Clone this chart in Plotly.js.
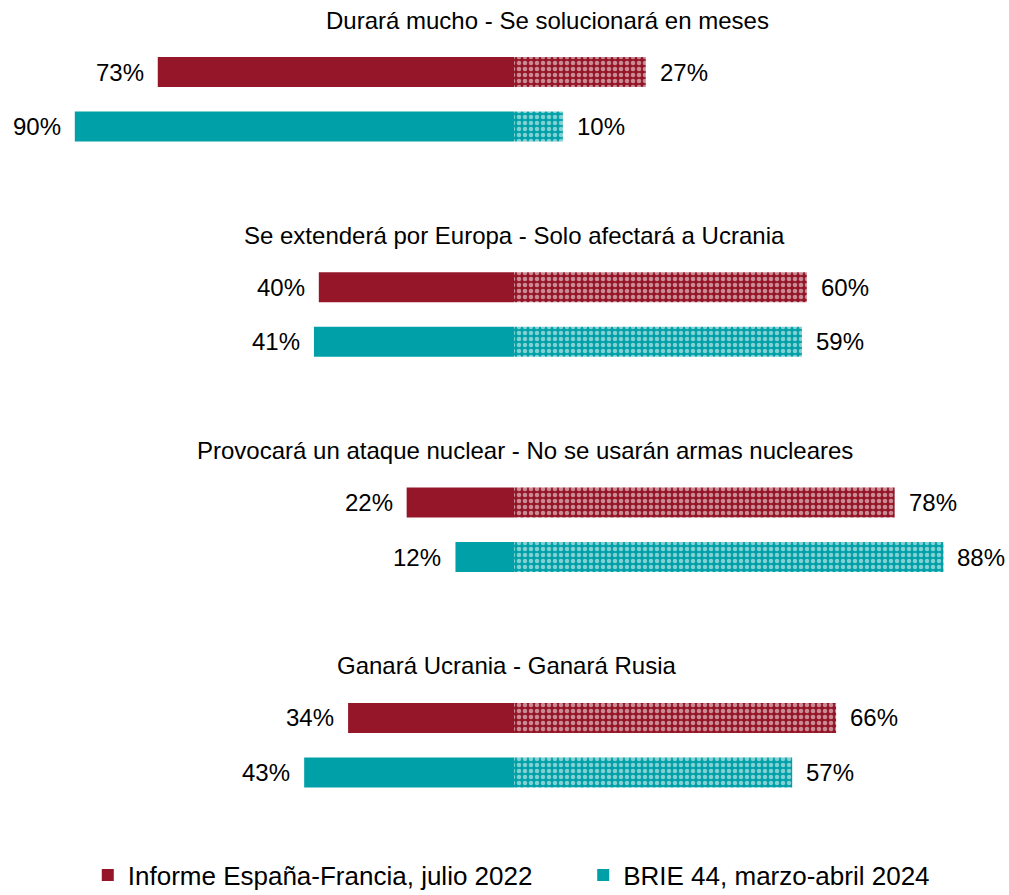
<!DOCTYPE html>
<html>
<head>
<meta charset="utf-8">
<script src="https://cdn.plot.ly/plotly-3.0.1.min.js"></script>
<style>html,body{margin:0;padding:0;background:#fff;}#chart{width:1009px;height:895px;}</style>
</head>
<body>
<div id="chart"></div>
<script>
// ---- data ----
const categories = [
  "Durará mucho - Se solucionará en meses",
  "Se extenderá por Europa - Solo afectará a Ucrania",
  "Provocará un ataque nuclear - No se usarán armas nucleares",
  "Ganará Ucrania - Ganará Rusia"
];
const seriesNames = ["Informe España-Francia, julio 2022", "BRIE 44, marzo-abril 2024"];
const left2022  = [73, 40, 22, 34];
const right2022 = [27, 60, 78, 66];
const left2024  = [90, 41, 12, 43];
const right2024 = [10, 59, 88, 57];

// ---- layout constants ----
const colors = ["#941628", "#00A0A8"];
const groupStep = 215.3, titleTop = 20, titleToBar = 52, seriesStep = 54.5;
const titleShift = [33, 0, 11, -8];
const legendX = [0.087, 0.578];
const font = "Liberation Sans, Arial, sans-serif";

const groupY = categories.map((c, g) => titleTop + g * groupStep);
const barY = s => groupY.map(t => t + titleToBar + s * seriesStep);

const series = [[left2022, right2022], [left2024, right2024]];
const legendIds = ["legend", "legend2"];
const traces = [];
const annotations = [];
series.forEach(([L, R], s) => {
  const ys = barY(s);
  traces.push({
    type: "bar", orientation: "h", name: seriesNames[s],
    x: L.map(v => -v), y: ys, width: 30,
    marker: {color: colors[s]}, showlegend: true, legend: legendIds[s],
    hoverinfo: "skip"
  });
  traces.push({
    type: "bar", orientation: "h", name: seriesNames[s],
    x: R, y: ys, width: 30,
    marker: {color: colors[s], pattern: {shape: ".", fgcolor: "#ffffff", bgcolor: colors[s], size: 6, solidity: 0.45, fillmode: "overlay"}},
    showlegend: false, hoverinfo: "skip"
  });
  L.forEach((v, i) => annotations.push({
    x: -v, y: ys[i], xref: "x", yref: "y", text: v + "%", showarrow: false,
    xanchor: "right", yanchor: "middle", xshift: -12,
    font: {family: font, size: 24, color: "#000"}
  }));
  R.forEach((v, i) => annotations.push({
    x: v, y: ys[i], xref: "x", yref: "y", text: v + "%", showarrow: false,
    xanchor: "left", yanchor: "middle", xshift: 12,
    font: {family: font, size: 24, color: "#000"}
  }));
});
categories.forEach((c, g) => annotations.push({
  x: 0, y: groupY[g], xref: "x", yref: "y", text: c, showarrow: false,
  xanchor: "center", yanchor: "middle", xshift: titleShift[g],
  font: {family: font, size: 24, color: "#000"}
}));

const legendBase = {
  orientation: "h", xanchor: "left", y: -0.004, yanchor: "bottom",
  font: {family: font, size: 26, color: "#000"},
  itemclick: false, itemdoubleclick: false, bgcolor: "rgba(0,0,0,0)"
};

const layout = {
  width: 1009, height: 895,
  margin: {l: 0, r: 0, t: 0, b: 0, autoexpand: false},
  paper_bgcolor: "#fff", plot_bgcolor: "#fff",
  barmode: "overlay",
  xaxis: {range: [-105.33, 101.43], visible: false, fixedrange: true},
  yaxis: {range: [895, 0], visible: false, fixedrange: true},
  showlegend: true,
  legend: Object.assign({}, legendBase, {x: legendX[0]}),
  legend2: Object.assign({}, legendBase, {x: legendX[1]}),
  annotations: annotations
};

Plotly.newPlot("chart", traces, layout, {displayModeBar: false, staticPlot: true});
</script>
</body>
</html>
